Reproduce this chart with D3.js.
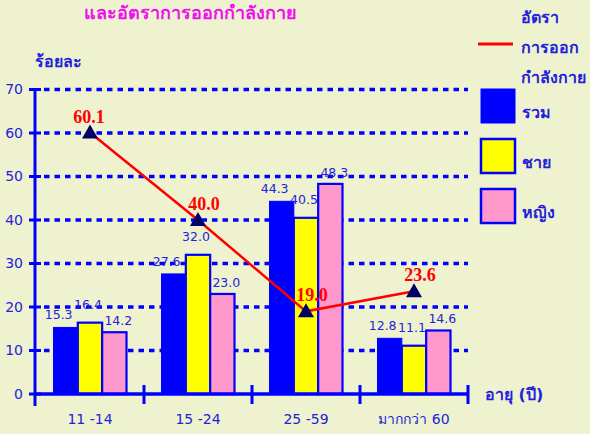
<!DOCTYPE html>
<html>
<head>
<meta charset="utf-8">
<script src="https://cdn.jsdelivr.net/npm/d3@7"></script>
<style>
  body { margin: 0; background: #eff2ce; }
  svg { display: block; }
</style>
</head>
<body>
<div id="chart"></div>
<script>
const W = 590, H = 434;

// data
const ageGroups = ["11 -14", "15 -24", "25 -59", "มากกว่า 60"];
const seriesNames = ["รวม", "ชาย", "หญิง"];
const totalPct = [15.3, 27.6, 44.3, 12.8];
const malePct = [16.4, 32.0, 40.5, 11.1];
const femalePct = [14.2, 23.0, 48.3, 14.6];
const exerciseRate = [60.1, 40.0, 19.0, 23.6];
const yTicks = [0, 10, 20, 30, 40, 50, 60, 70];

const blue = "#0000ff";
const textBlue = "#2222dd";
const fills = ["#0000ff", "#ffff00", "#ff99cc"];
const labelDx = [-7, -2, 4];
const labelDy = [-8, -14, -7];

const svg = d3.select("#chart").append("svg")
  .attr("width", W)
  .attr("height", H)
  .style("font-family", "'DejaVu Sans', Tahoma, sans-serif");

svg.append("rect").attr("width", W).attr("height", H).attr("fill", "#eff2ce");

const x = d3.scaleBand().domain(ageGroups).range([36, 468]);
const y = d3.scaleLinear().domain([0, 70]).range([394, 89.5]);
const xs = d3.scaleBand().domain(seriesNames).range([0, 73]);
const groupOff = (x.bandwidth() - 73) / 2;

// grid lines
svg.append("g")
  .selectAll("line")
  .data(yTicks.filter(d => d > 0))
  .join("line")
  .attr("x1", 44).attr("x2", 468)
  .attr("y1", d => y(d)).attr("y2", d => y(d))
  .attr("stroke", blue)
  .attr("stroke-width", 3.5)
  .attr("stroke-dasharray", "5.5,5");

// bars
const series = [totalPct, malePct, femalePct];
series.forEach((vals, si) => {
  const g = svg.append("g");
  g.selectAll("rect")
    .data(vals)
    .join("rect")
    .attr("x", (d, i) => x(ageGroups[i]) + groupOff + xs(seriesNames[si]))
    .attr("y", d => y(d))
    .attr("width", xs.bandwidth())
    .attr("height", d => y(0) - y(d))
    .attr("fill", fills[si])
    .attr("stroke", blue)
    .attr("stroke-width", si === 0 ? 1 : 2.2);
  g.selectAll("text")
    .data(vals)
    .join("text")
    .attr("x", (d, i) => x(ageGroups[i]) + groupOff + xs(seriesNames[si]) + xs.bandwidth() / 2 + labelDx[si])
    .attr("y", d => y(d) + labelDy[si])
    .attr("text-anchor", "middle")
    .attr("font-size", 12.5)
    .attr("fill", textBlue)
    .text(d => d.toFixed(1));
});

// y axis
const yAxis = svg.append("g").attr("transform", "translate(35,0)")
  .call(d3.axisLeft(y).tickValues(yTicks).tickSize(0).tickPadding(12));
yAxis.select(".domain").remove();
yAxis.selectAll("text").attr("font-size", 14).attr("fill", textBlue).attr("font-family", "'DejaVu Sans', sans-serif");
svg.append("line").attr("x1", 35).attr("x2", 35).attr("y1", y(70)).attr("y2", y(0) + 12)
  .attr("stroke", blue).attr("stroke-width", 3);
svg.append("g").selectAll("line").data(yTicks).join("line")
  .attr("x1", 29).attr("x2", 41)
  .attr("y1", d => y(d)).attr("y2", d => y(d))
  .attr("stroke", blue).attr("stroke-width", 3);

// x axis
svg.append("line").attr("x1", 35).attr("x2", 468).attr("y1", y(0)).attr("y2", y(0))
  .attr("stroke", blue).attr("stroke-width", 3.5);
const bounds = ageGroups.map(d => x(d)).concat([x.range()[1]]);
svg.append("g").selectAll("line").data(bounds.slice(1)).join("line")
  .attr("x1", d => d).attr("x2", d => d)
  .attr("y1", 385).attr("y2", 404)
  .attr("stroke", blue).attr("stroke-width", 3);
svg.append("g").selectAll("text").data(ageGroups).join("text")
  .attr("x", d => x(d) + x.bandwidth() / 2)
  .attr("y", 424)
  .attr("text-anchor", "middle")
  .attr("font-size", 14)
  .attr("fill", textBlue)
  .text(d => d);

// line series
const lineGen = d3.line()
  .x((d, i) => x(ageGroups[i]) + x.bandwidth() / 2)
  .y(d => y(d));
svg.append("path")
  .datum(exerciseRate)
  .attr("d", lineGen)
  .attr("fill", "none")
  .attr("stroke", "#ff0000")
  .attr("stroke-width", 2.5);
svg.append("g").selectAll("path").data(exerciseRate).join("path")
  .attr("transform", (d, i) => `translate(${x(ageGroups[i]) + x.bandwidth() / 2},${y(d)})`)
  .attr("d", "M0,-8L8,6L-8,6Z")
  .attr("fill", "#000066");
svg.append("g").selectAll("text").data(exerciseRate).join("text")
  .attr("x", (d, i) => x(ageGroups[i]) + x.bandwidth() / 2 + (i === 0 ? -1 : 6))
  .attr("y", d => y(d) - 10)
  .attr("text-anchor", "middle")
  .attr("font-family", "'Liberation Serif', 'Times New Roman', serif")
  .attr("font-weight", "bold")
  .attr("font-size", 18)
  .attr("fill", "#ff0000")
  .text(d => d.toFixed(1));

// titles
svg.append("text").attr("x", 84).attr("y", 19)
  .attr("font-size", 18).attr("font-weight", "bold").attr("fill", "#ee11ee")
  .text("และอัตราการออกกำลังกาย");
svg.append("text").attr("x", 35).attr("y", 67)
  .attr("font-size", 16).attr("font-weight", "bold").attr("fill", textBlue)
  .text("ร้อยละ");
svg.append("text").attr("x", 485).attr("y", 400)
  .attr("font-size", 16).attr("font-weight", "bold").attr("fill", textBlue)
  .text("อายุ (ปี)");

// legend
const legendText = ["อัตรา", "การออก", "กำลังกาย"];
svg.append("g").selectAll("text").data(legendText).join("text")
  .attr("x", 521)
  .attr("y", (d, i) => 23 + i * 30)
  .attr("font-size", 16).attr("font-weight", "bold").attr("fill", textBlue)
  .text(d => d);
svg.append("line").attr("x1", 478).attr("x2", 513).attr("y1", 44).attr("y2", 44)
  .attr("stroke", "#ff0000").attr("stroke-width", 3);
const leg = svg.append("g").selectAll("g").data(seriesNames).join("g")
  .attr("transform", (d, i) => `translate(481,${89 + i * 50})`);
leg.append("rect")
  .attr("width", 34).attr("height", 34)
  .attr("fill", (d, i) => fills[i])
  .attr("stroke", blue)
  .attr("stroke-width", (d, i) => i === 0 ? 1 : 2.5);
leg.append("text")
  .attr("x", 41).attr("y", 29)
  .attr("font-size", 16).attr("font-weight", "bold").attr("fill", textBlue)
  .text(d => d);
</script>
</body>
</html>
